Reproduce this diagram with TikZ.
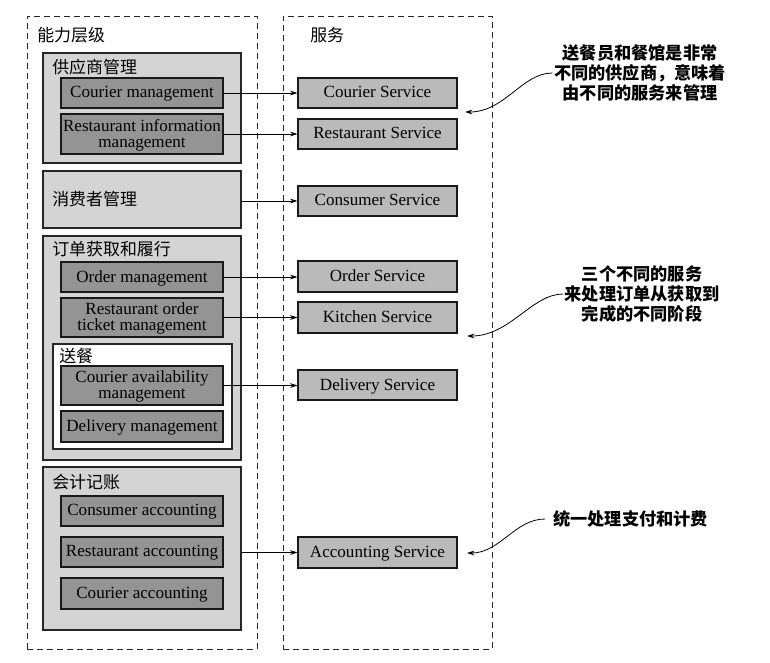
\documentclass[tikz,border=0pt]{standalone}
\usepackage{fontspec}
\setmainfont{Liberation Serif}
\newfontfamily\cjk{Noto Sans CJK SC}
\usetikzlibrary{arrows.meta}
\newcommand\mybox[7]{%
  \pgfmathsetmacro\mycx{(#3+#5)/2}%
  \pgfmathsetmacro\mycy{(#4+#6)/2}%
  \pgfmathsetmacro\myww{(#5-#3)*0.75}%
  \pgfmathsetmacro\myhh{(#6-#4)*0.75}%
  \node[#2, minimum width=\myww pt, minimum height=\myhh pt] (#1) at (\mycx,\mycy) {#7};}
\begin{document}
\begin{tikzpicture}[x=0.75pt,y=-0.75pt,
  zone/.style={draw=black!85, dash pattern=on 4.5pt off 3pt, line width=0.7pt, inner sep=0pt},
  grp/.style={draw=black!85, fill=black!17, line width=0.8pt, inner sep=0pt},
  sub/.style={draw=black!85, fill=white, line width=0.8pt, inner sep=0pt},
  capbox/.style={draw=black!90, fill=black!42, line width=0.8pt, inner sep=0pt, align=center,
    text depth=0.25ex, font=\fontsize{12.8}{12}\selectfont},
  svcbox/.style={draw=black!90, fill=black!27, line width=0.8pt, inner sep=0pt, align=center,
    text depth=0.25ex, font=\fontsize{12.8}{12}\selectfont},
  lbl/.style={anchor=west, inner sep=0pt, font=\cjk\fontsize{12.7}{14}\selectfont},
  note/.style={inner sep=0pt, align=center, font=\cjk\bfseries\fontsize{12.9}{15}\selectfont},
  arr/.style={line width=0.6pt, -{Stealth[length=5.5pt,width=3.5pt]}},
]
\useasboundingbox (0,0) rectangle (770,662);

% zones
\mybox{capzone}{zone}{27}{16}{257}{649}{}
\mybox{svczone}{zone}{283}{16}{492}{649}{}
\node[lbl] (caplbl) at (37,35) {能力层级};
\node[lbl] (svclbl) at (310,35) {服务};

% supplier management
\mybox{supg}{grp}{43}{53}{241}{163}{}
\node[lbl] (suplbl) at (52,67) {供应商管理};
\mybox{cm}{capbox}{61}{78}{223}{108}{Courier management}
\mybox{rim}{capbox}{61}{114}{223}{154}{Restaurant information\\management}

% consumer management
\mybox{consg}{grp}{43}{171}{241}{228}{}
\node[lbl] (conslbl) at (52,199) {消费者管理};

% order
\mybox{ordg}{grp}{43}{236}{241}{460}{}
\node[lbl] (ordlbl) at (52,249) {订单获取和履行};
\mybox{om}{capbox}{61}{262}{223}{292}{Order management}
\mybox{rotm}{capbox}{61}{298}{223}{337}{Restaurant order\\ticket management}
\mybox{delg}{sub}{53}{344}{232}{449}{}
\node[lbl] (dellbl) at (59,356) {送餐};
\mybox{cam}{capbox}{61}{366}{223}{405}{Courier availability\\management}
\mybox{dm}{capbox}{61}{411}{223}{442}{Delivery management}

% accounting
\mybox{accg}{grp}{43}{467}{241}{630}{}
\node[lbl] (acclbl) at (52,482) {会计记账};
\mybox{ca}{capbox}{61}{496}{223}{526}{Consumer accounting}
\mybox{ra}{capbox}{61}{537}{223}{567}{Restaurant accounting}
\mybox{coa}{capbox}{61}{578}{223}{609}{Courier accounting}

% services
\mybox{cs}{svcbox}{298}{78}{457}{108}{Courier Service}
\mybox{rs}{svcbox}{298}{119}{457}{149}{Restaurant Service}
\mybox{conss}{svcbox}{298}{186}{457}{216}{Consumer Service}
\mybox{os}{svcbox}{298}{261}{457}{292}{Order Service}
\mybox{ks}{svcbox}{298}{302}{457}{333}{Kitchen Service}
\mybox{ds}{svcbox}{298}{370}{457}{400}{Delivery Service}
\mybox{as}{svcbox}{298}{537}{457}{568}{Accounting Service}

% connectors
\draw[arr] (cm.east) -- (cm.east -| cs.west);
\draw[arr] (rim.east) -- (rim.east -| rs.west);
\draw[arr] (consg.east |- conss.west) -- (conss.west);
\draw[arr] (om.east) -- (om.east -| os.west);
\draw[arr] (rotm.east) -- (rotm.east -| ks.west);
\draw[arr] (cam.east) -- (cam.east -| ds.west);
\draw[arr] (accg.east |- as.west) -- (as.west);

% notes
\node[note] (n1) at (640,73) {送餐员和餐馆是非常\\不同的供应商，意味着\\由不同的服务来管理};
\node[note] (n2) at (642,294) {三个不同的服务\\来处理订单从获取到\\完成的不同阶段};
\node[note, anchor=west] (n3) at (553,519) {统一处理支付和计费};
\coordinate (t1) at (465,112);
\coordinate (t2) at (467,336);
\coordinate (t3) at (467,553);
\draw[arr] ([xshift=-1pt]n1.west) .. controls (522,73) and (505,112) .. (t1);
\draw[arr] ([xshift=-1pt]n2.west) .. controls (532,294) and (510,336) .. (t2);
\draw[arr] ([xshift=-6pt]n3.west) .. controls (515,519) and (500,553) .. (t3);
\end{tikzpicture}
\end{document}
